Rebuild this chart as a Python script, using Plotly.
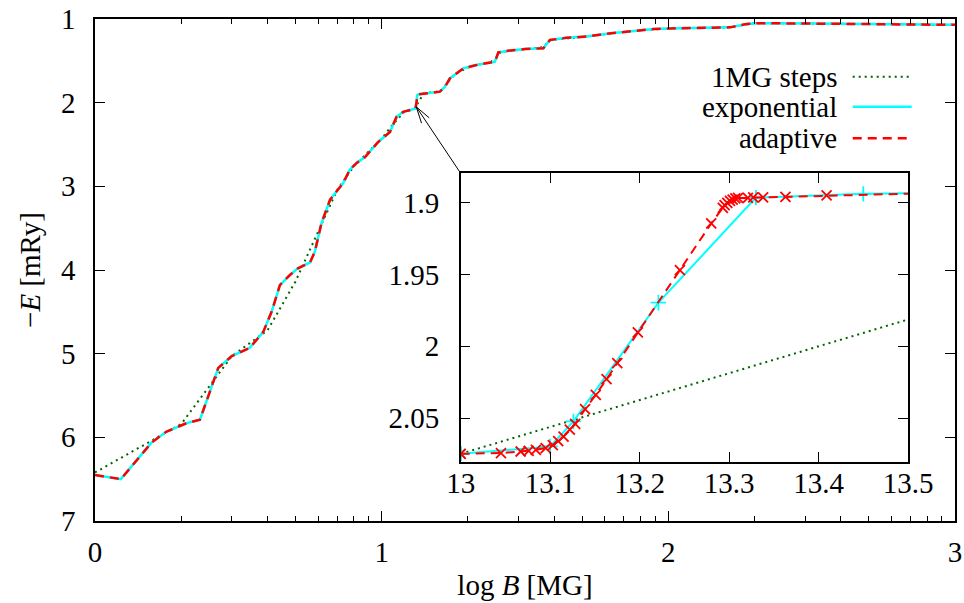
import math
import plotly.graph_objects as go

# ---------------- data ----------------
# main panel: log10(B / MG) and -E [mRy]
main_logB = [0.0, 0.09, 0.198, 0.25, 0.32, 0.366, 0.43, 0.477, 0.54, 0.587, 0.616,
             0.645, 0.68, 0.708, 0.75, 0.767, 0.79, 0.82, 0.843, 0.866, 0.889, 0.913,
             0.942, 0.988, 1.029, 1.052, 1.075, 1.1139, 1.118, 1.122, 1.1239, 1.13,
             1.168, 1.203, 1.221, 1.238, 1.285, 1.331, 1.395, 1.407, 1.45, 1.50,
             1.564, 1.587, 1.645, 1.715, 1.80, 1.878, 1.95, 2.04, 2.215, 2.273,
             2.308, 2.5, 2.7, 3.0]
main_exponential = [6.45, 6.50, 6.06, 5.93, 5.83, 5.79, 5.17, 5.03, 4.93, 4.74, 4.50,
                    4.18, 4.06, 3.98, 3.91, 3.78, 3.44, 3.16, 3.06, 2.96, 2.80, 2.72,
                    2.65, 2.47, 2.35, 2.17, 2.11, 2.078, 2.07, 1.99, 1.91, 1.90,
                    1.88, 1.868, 1.81, 1.71, 1.59, 1.55, 1.51, 1.40, 1.375, 1.36,
                    1.35, 1.25, 1.225, 1.21, 1.17, 1.14, 1.12, 1.11, 1.10, 1.06,
                    1.05, 1.055, 1.06, 1.07]
main_adaptive = main_exponential

steps_B = [1, 2, 3, 4, 5, 6, 7, 8, 9, 10, 11, 12, 13, 14, 15, 16, 17, 18, 20, 22,
           24, 25, 26, 30, 35, 36, 37, 38, 39, 40, 50, 60, 70, 80, 100, 130, 160,
           180, 200, 300, 500, 1000]
steps_E = [6.42, 5.84, 5.03, 4.72, 4.14, 3.55, 3.04, 2.76, 2.58, 2.43, 2.25, 2.11,
           2.078, 1.89, 1.875, 1.867, 1.76, 1.66, 1.58, 1.54, 1.515, 1.47, 1.395,
           1.37, 1.352, 1.34, 1.33, 1.27, 1.25, 1.245, 1.215, 1.18, 1.155, 1.135,
           1.115, 1.105, 1.10, 1.075, 1.05, 1.053, 1.06, 1.07]

# inset: B [MG] and -E [mRy]
inset_adaptive_B = [13.0, 13.045, 13.067, 13.076, 13.084, 13.095, 13.103, 13.109,
                    13.115, 13.122, 13.128, 13.139, 13.151, 13.163, 13.175, 13.198,
                    13.245, 13.28, 13.293, 13.295, 13.298, 13.301, 13.304, 13.307,
                    13.31, 13.321, 13.327, 13.338, 13.363, 13.409, 13.53]
inset_adaptive_E = [2.0748, 2.0743, 2.0732, 2.0727, 2.072, 2.0708, 2.0687, 2.066,
                    2.0628, 2.058, 2.054, 2.0438, 2.0338, 2.0229, 2.0118, 1.9903,
                    1.947, 1.9146, 1.9037, 1.9019, 1.9003, 1.8989, 1.898, 1.8972,
                    1.8968, 1.8968, 1.8965, 1.8965, 1.8961, 1.895, 1.8934]
inset_exponential_B = [13.0, 13.1, 13.126, 13.221, 13.33, 13.45, 13.58]
inset_exponential_E = [2.0748, 2.0697, 2.0523, 1.9697, 1.8966, 1.894, 1.8928]
inset_steps_B = [13.0, 14.0]
inset_steps_E = [2.0748, 1.888]

main_xticks = [0, 1, 2, 3]
main_yticks = [1, 2, 3, 4, 5, 6, 7]
inset_xticks = [13, 13.1, 13.2, 13.3, 13.4, 13.5]
inset_xticklabels = ["13", "13.1", "13.2", "13.3", "13.4", "13.5"]
inset_yticks = [1.9, 1.95, 2.0, 2.05]
inset_yticklabels = ["1.9", "1.95", "2", "2.05"]

legend_labels = ["1MG steps", "exponential", "adaptive"]

# ---------------- styles ----------------
GREEN = "#006400"
CYAN = "#00ffff"
RED = "#ff0000"
FONT = "Liberation Serif"
FS = 29

fig = go.Figure()

steps_logB = [math.log10(b) for b in steps_B]
fig.add_trace(go.Scatter(x=steps_logB, y=steps_E, mode="lines",
                         line=dict(color=GREEN, width=2, dash="2px,4px"),
                         xaxis="x", yaxis="y", showlegend=False))
fig.add_trace(go.Scatter(x=main_logB, y=main_exponential, mode="lines",
                         line=dict(color=CYAN, width=2.5),
                         xaxis="x", yaxis="y", showlegend=False))
fig.add_trace(go.Scatter(x=main_logB, y=main_adaptive, mode="lines",
                         line=dict(color=RED, width=2.5, dash="9px,6px"),
                         xaxis="x", yaxis="y", showlegend=False))

# inset traces
fig.add_trace(go.Scatter(x=inset_steps_B, y=inset_steps_E, mode="lines+markers",
                         line=dict(color=GREEN, width=2, dash="2px,4px"),
                         marker=dict(symbol="asterisk", size=11,
                                     line=dict(color=GREEN, width=1.5)),
                         xaxis="x2", yaxis="y2", showlegend=False))
fig.add_trace(go.Scatter(x=inset_exponential_B, y=inset_exponential_E, mode="lines+markers",
                         line=dict(color=CYAN, width=2),
                         marker=dict(symbol="cross-thin", size=11,
                                     line=dict(color=CYAN, width=1.8)),
                         xaxis="x2", yaxis="y2", showlegend=False))
fig.add_trace(go.Scatter(x=inset_adaptive_B, y=inset_adaptive_E, mode="lines+markers",
                         line=dict(color=RED, width=2, dash="9px,6px"),
                         marker=dict(symbol="x-thin", size=10,
                                     line=dict(color=RED, width=1.8)),
                         xaxis="x2", yaxis="y2", showlegend=False))

# ---------------- layout ----------------
W, H = 964, 603
ml, mr, mt, mb = 95, 9, 19, 82
pw, ph = W - ml - mr, H - mt - mb
XR, YR = (0.0, 3.0), (7.0, 1.0)


def px2paper_x(px):
    return (px - ml) / pw


def px2paper_y(py):
    return (H - mb - py) / ph


def px2data_x(px):
    return XR[0] + (px - ml) / pw * (XR[1] - XR[0])


def px2data_y(py):
    return YR[1] + (py - mt) / ph * (YR[0] - YR[1])


minor_vals = [n + math.log10(k) for n in range(3) for k in range(2, 10)]

axis_common = dict(showline=True, linecolor="black", linewidth=1.5, mirror="allticks",
                   ticks="inside", tickcolor="black", tickwidth=1, showgrid=False,
                   zeroline=False, automargin=False,
                   tickfont=dict(family=FONT, size=FS, color="black"))

fig.update_layout(
    width=W, height=H,
    margin=dict(l=ml, r=mr, t=mt, b=mb),
    paper_bgcolor="white", plot_bgcolor="white",
    showlegend=False,
    font=dict(family=FONT, size=FS, color="black"),
    xaxis=dict(domain=[0, 1], range=list(XR), tickmode="array", tickvals=main_xticks,
               ticklen=10, ticklabelstandoff=4,
               minor=dict(tickmode="array", tickvals=minor_vals, ticklen=5,
                          ticks="inside", tickcolor="black", tickwidth=1),
               title=dict(text="log <i>B</i> [MG]", font=dict(family=FONT, size=FS),
                          standoff=8),
               **axis_common),
    yaxis=dict(domain=[0, 1], range=list(YR), tickmode="array", tickvals=main_yticks,
               ticklen=10, ticklabelstandoff=12,
               title=dict(text="−<i>E</i> [mRy]", font=dict(family=FONT, size=FS),
                          standoff=12),
               **axis_common),
    xaxis2=dict(domain=[px2paper_x(460.7), px2paper_x(908)], range=[13, 13.5],
                anchor="y2", tickmode="array", tickvals=inset_xticks,
                ticktext=inset_xticklabels, ticklen=10, ticklabelstandoff=-5,
                **axis_common),
    yaxis2=dict(domain=[px2paper_y(461.7), px2paper_y(173.3)], range=[2.0803, 1.8797],
                anchor="x2", tickmode="array", tickvals=inset_yticks,
                ticktext=inset_yticklabels, ticklen=10, ticklabelstandoff=14,
                **axis_common),
)

# arrow from inset corner to the zoomed region of the main curve (open gnuplot head)
tip_px, tail_px = (416.3, 106.9), (460.7, 173.3)
fig.add_shape(type="line", xref="x", yref="y",
              x0=px2data_x(tail_px[0]), y0=px2data_y(tail_px[1]),
              x1=px2data_x(tip_px[0]), y1=px2data_y(tip_px[1]),
              line=dict(color="black", width=1))
dx, dy = tail_px[0] - tip_px[0], tail_px[1] - tip_px[1]
L = math.hypot(dx, dy)
ux, uy = dx / L, dy / L
for ang in (math.radians(16), math.radians(-16)):
    hx = ux * math.cos(ang) - uy * math.sin(ang)
    hy = ux * math.sin(ang) + uy * math.cos(ang)
    fig.add_shape(type="line", xref="x", yref="y",
                  x0=px2data_x(tip_px[0]), y0=px2data_y(tip_px[1]),
                  x1=px2data_x(tip_px[0] + 17 * hx), y1=px2data_y(tip_px[1] + 17 * hy),
                  line=dict(color="black", width=1))

# gnuplot-style key: text right-aligned, sample to the right
key_rows_py = [76.7, 106.7, 138.3]
key_styles = [dict(color=GREEN, width=2, dash="2px,4px"),
              dict(color=CYAN, width=2.5),
              dict(color=RED, width=2.5, dash="9px,6px")]
for label, py, st in zip(legend_labels, key_rows_py, key_styles):
    fig.add_annotation(x=px2paper_x(839), y=px2paper_y(py), xref="paper", yref="paper",
                       text=label, showarrow=False, xanchor="right", yanchor="middle",
                       font=dict(family=FONT, size=FS, color="black"))
    fig.add_shape(type="line", xref="paper", yref="paper",
                  x0=px2paper_x(852.7), x1=px2paper_x(911.7),
                  y0=px2paper_y(py), y1=px2paper_y(py), line=st)

fig.write_html("out.html")
